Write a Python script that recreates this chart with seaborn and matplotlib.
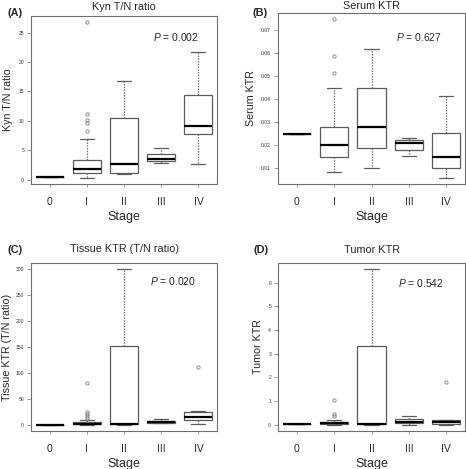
import numpy as np
import pandas as pd
import matplotlib
matplotlib.use("Agg")
import matplotlib.pyplot as plt
import seaborn as sns

stages = ["0", "I", "II", "III", "IV"]

# summaries: [low whisker, Q1, median, Q3, high whisker]
kyn_summary = [
    [0.45, 0.45, 0.45, 0.45, 0.45],
    [0.3, 1.05, 1.85, 3.4, 6.9],
    [0.95, 1.05, 2.7, 10.55, 16.75],
    [2.8, 3.15, 3.55, 4.4, 5.4],
    [2.7, 7.8, 9.05, 14.4, 21.8],
]
kyn_outliers = [[], [8.2, 9.7, 10.1, 11.2, 26.8], [], [], []]

serum_summary = [
    [0.025, 0.025, 0.025, 0.025, 0.025],
    [0.0084, 0.0150, 0.0201, 0.0280, 0.0451],
    [0.0100, 0.0191, 0.0281, 0.0451, 0.0621],
    [0.0152, 0.0182, 0.0211, 0.0222, 0.0234],
    [0.0060, 0.0101, 0.0148, 0.0254, 0.0415],
]
serum_outliers = [[], [0.0514, 0.0589, 0.0748], [], [], []]

tissue_summary = [
    [0.6, 0.6, 0.6, 0.6, 0.6],
    [0.6, 1.2, 2.5, 5.0, 9.5],
    [0.6, 1.3, 2.6, 152.0, 300.0],
    [3.2, 4.5, 6.4, 8.4, 11.6],
    [1.3, 9.0, 15.4, 24.4, 27.0],
]
tissue_outliers = [[], [14.0, 17.3, 20.5, 25.0, 81.0], [], [], [111.8]]

tumor_summary = [
    [0.03, 0.03, 0.03, 0.03, 0.03],
    [0.0, 0.02, 0.07, 0.11, 0.22],
    [0.0, 0.015, 0.04, 3.33, 6.57],
    [0.01, 0.07, 0.13, 0.23, 0.35],
    [0.01, 0.03, 0.10, 0.19, 0.20],
]
tumor_outliers = [[], [0.38, 0.44, 1.06], [], [], [1.8]]

titles = ["Kyn T/N ratio", "Serum KTR", "Tissue KTR (T/N ratio)", "Tumor KTR"]
ylabels = ["Kyn T/N ratio", "Serum KTR", "Tissue KTR (T/N ratio)", "Tumor KTR"]
pvalues = ["0.002", "0.627", "0.020", "0.542"]
panel_tags = ["(A)", "(B)", "(C)", "(D)"]
yticks = [
    [0, 5, 10, 15, 20, 25],
    [0.01, 0.02, 0.03, 0.04, 0.05, 0.06, 0.07],
    [0, 50, 100, 150, 200, 250, 300],
    [0, 1, 2, 3, 4, 5, 6],
]


def to_frame(summary, outliers, rep=30):
    # repeat the read-off quartiles so the box statistics land on them exactly
    rows = []
    for stage, s, out in zip(stages, summary, outliers):
        lo, q1, med, q3, hi = s
        vals = [lo] + [q1] * rep + [med] * rep + [q3] * rep + [hi] + list(out)
        rows += [(stage, v) for v in vals]
    return pd.DataFrame(rows, columns=["stage", "value"])


frames = [
    to_frame(kyn_summary, kyn_outliers),
    to_frame(serum_summary, serum_outliers),
    to_frame(tissue_summary, tissue_outliers),
    to_frame(tumor_summary, tumor_outliers),
]

sns.set_style("ticks")
plt.rcParams["font.family"] = ["Liberation Sans", "DejaVu Sans"]
plt.rcParams["mathtext.fontset"] = "custom"
plt.rcParams["mathtext.it"] = "Liberation Sans:italic"
plt.rcParams["mathtext.rm"] = "Liberation Sans"

W, H = 466, 469
fig = plt.figure(figsize=(W / 100, H / 100), dpi=100)

# axes boxes in pixels: left, top, right, bottom
boxes = [(31, 16, 217, 184), (278, 13, 465, 184), (31, 263, 217, 431), (278, 263, 465, 431)]
ptext = [(0.903, 0.875), (0.877, 0.86), (0.887, 0.893), (0.888, 0.881)]
ylab_x = [-0.097, -0.118, -0.102, -0.080]
tag_xy = [(7, 13), (252, 13), (7, 250), (254, 250)]
title_y = [7, 6, 249, 250]

frame_col = "#6e6e6e"
for i in range(4):
    l, t, r, b = boxes[i]
    ax = fig.add_axes([l / W, 1 - b / H, (r - l) / W, (b - t) / H])
    sns.boxplot(
        data=frames[i], x="stage", y="value", order=stages, ax=ax,
        width=0.75, color="white", linecolor="#5a5a5a", linewidth=0.9,
        whis=1.5, fliersize=2.4,
        flierprops=dict(marker="o", markerfacecolor="none",
                        markeredgecolor="#7a7a7a", markeredgewidth=0.6),
        medianprops=dict(color="black", linewidth=1.6),
        whiskerprops=dict(linestyle=(0, (1.2, 1.0)), color="#707070"),
    )
    ax.set_xlim(-0.5, 4.5)
    ax.margins(y=0.04)
    ax.set_yticks(yticks[i])
    ax.set_xlabel("Stage", fontsize=9)
    ax.xaxis.set_label_coords(0.5, -0.16)
    ax.set_ylabel(ylabels[i], fontsize=7.7)
    ax.yaxis.set_label_coords(ylab_x[i], 0.5)
    ax.tick_params(axis="x", labelsize=7.5, length=2.5, width=0.5, pad=7,
                   color=frame_col)
    ax.tick_params(axis="y", labelsize=3.6, length=3, width=0.5, pad=2,
                   color=frame_col, labelcolor="#333333")
    for sp in ax.spines.values():
        sp.set_visible(True)
        sp.set_color(frame_col)
        sp.set_linewidth(0.8)
    ax.text(ptext[i][0], ptext[i][1], "$P$ = " + pvalues[i], transform=ax.transAxes,
            ha="right", va="center", fontsize=7.4)
    fig.text((l + r) / 2 / W, 1 - title_y[i] / H, titles[i], ha="center",
             va="center", fontsize=7.8)
    fig.text(tag_xy[i][0] / W, 1 - tag_xy[i][1] / H, panel_tags[i], ha="left",
             va="center", fontsize=7.8, fontweight="bold")

fig.savefig("out.png", dpi=100, facecolor="white")
